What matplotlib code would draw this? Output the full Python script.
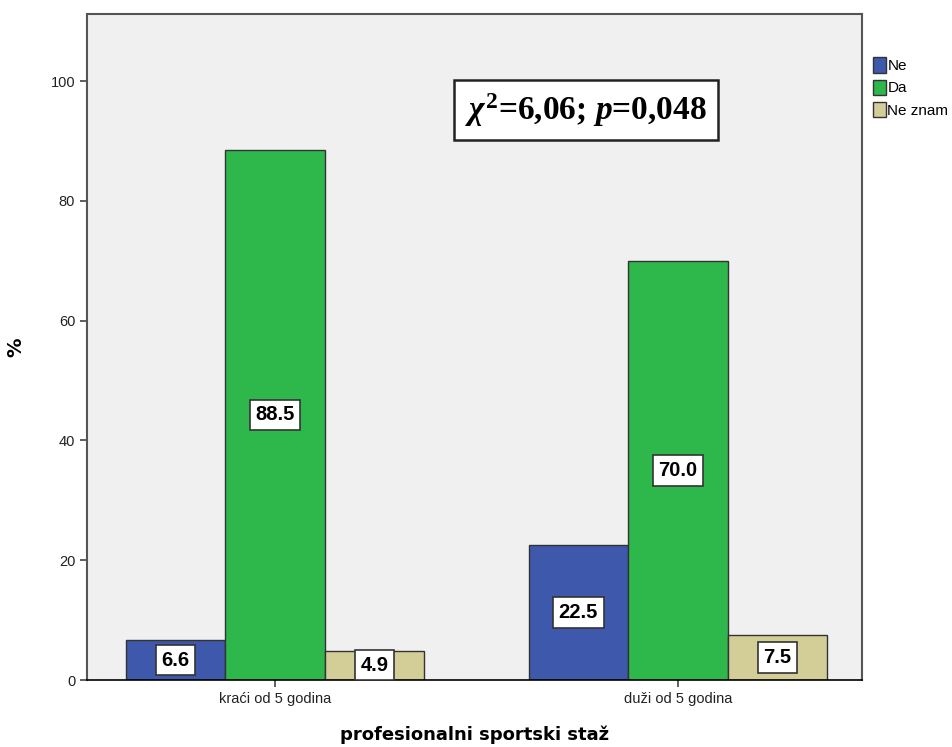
import numpy as np
import matplotlib
matplotlib.use("Agg")
import matplotlib.pyplot as plt

plt.rcParams["mathtext.fontset"] = "custom"
plt.rcParams["mathtext.it"] = "Liberation Serif:italic:bold"
plt.rcParams["mathtext.rm"] = "Liberation Serif:bold"
plt.rcParams["mathtext.bf"] = "Liberation Serif:bold"

categories = ["kraći od 5 godina", "duži od 5 godina"]
series = ["Ne", "Da", "Ne znam"]
values = {
    "Ne": [6.6, 22.5],
    "Da": [88.5, 70.0],
    "Ne znam": [4.9, 7.5],
}
colors = {"Ne": "#3e58ac", "Da": "#2eb84c", "Ne znam": "#d3ce98"}
yticks = [0, 20, 40, 60, 80, 100]

fig = plt.figure(figsize=(9.52, 7.47), dpi=100)
ax = fig.add_axes([87 / 952, 67 / 747, 775 / 952, 666 / 747])
ax.set_facecolor("#f0f0f0")

x = np.arange(len(categories))
w = 0.247
for i, s in enumerate(series):
    xs = x + (i - 1) * w
    bars = ax.bar(xs, values[s], width=w, color=colors[s], edgecolor="#333333",
                  lw=1.0, label=s, zorder=2)
    for b, v in zip(bars, values[s]):
        ax.text(b.get_x() + b.get_width() / 2, v / 2, f"{v:.1f}",
                ha="center", va="center", fontsize=14.5, fontweight="bold",
                family="Liberation Sans", zorder=4,
                bbox=dict(boxstyle="square,pad=0.28", fc="white", ec="#333333", lw=1.2))

ax.set_xlim(-0.467, 1.457)
ax.set_ylim(0, 111.2)
ax.set_yticks(yticks)
ax.set_xticks(x)
ax.set_xticklabels(categories)
ax.tick_params(axis="both", direction="out", length=5, width=1.2, color="#444444",
               labelsize=10.5, labelcolor="#222222")
for lbl in ax.get_xticklabels() + ax.get_yticklabels():
    lbl.set_family("Liberation Sans")
for sp in ax.spines.values():
    sp.set_color("#555555")
    sp.set_linewidth(1.5)
ax.spines["bottom"].set_color("black")
ax.spines["bottom"].set_linewidth(1.2)

ax.set_xlabel("profesionalni sportski staž", fontsize=13, fontweight="bold", labelpad=14)
ax.set_ylabel("%", fontsize=14, fontweight="bold", labelpad=18)

# chi-square annotation
ax.text(0.644, 0.856, r"$\chi^{2}$=6,06; $p$=0,048",
        transform=ax.transAxes, ha="center", va="center", fontsize=24,
        fontweight="bold", family="Liberation Serif", zorder=5,
        bbox=dict(boxstyle="square,pad=0.33", fc="white", ec="#222222", lw=1.8))

leg = ax.legend(loc="upper left", bbox_to_anchor=(1.006, 0.944), frameon=False,
                handlelength=0.85, handleheight=1.15, handletextpad=0.1,
                labelspacing=0.42, borderaxespad=0,
                prop={"family": "Liberation Sans", "size": 11})

fig.savefig("out.png", dpi=100)
